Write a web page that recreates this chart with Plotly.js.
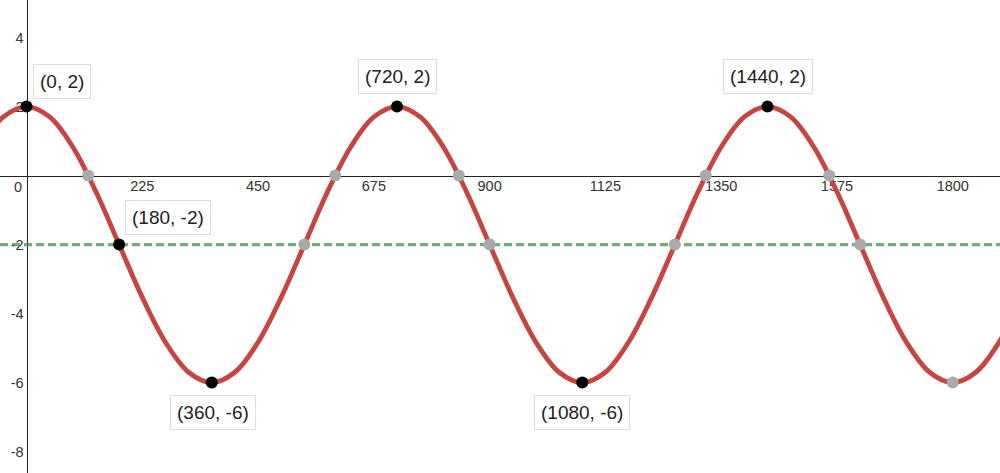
<!DOCTYPE html>
<html>
<head>
<meta charset="utf-8">
<script src="https://cdn.plot.ly/plotly-3.0.1.min.js"></script>
<style>
  html, body { margin: 0; padding: 0; background: #fff; }
  #chart { width: 1000px; height: 473px; }
</style>
</head>
<body>
<div id="chart"></div>
<script>
// Curve samples of the wave, every 45 units along x
const curveX = [-90, -45, 0, 45, 90, 135, 180, 225, 270, 315, 360, 405, 450, 495, 540, 585,
  630, 675, 720, 765, 810, 855, 900, 945, 990, 1035, 1080, 1125, 1170, 1215, 1260, 1305,
  1350, 1395, 1440, 1485, 1530, 1575, 1620, 1665, 1710, 1755, 1800, 1845, 1890, 1935];
const curveY = [0.83, 1.70, 2, 1.70, 0.83, -0.47, -2, -3.53, -4.83, -5.70, -6, -5.70, -4.83, -3.53, -2, -0.47,
  0.83, 1.70, 2, 1.70, 0.83, -0.47, -2, -3.53, -4.83, -5.70, -6, -5.70, -4.83, -3.53, -2, -0.47,
  0.83, 1.70, 2, 1.70, 0.83, -0.47, -2, -3.53, -4.83, -5.70, -6, -5.70, -4.83, -3.53];

// Midline
const midlineY = -2;

// Labelled key points (maxima, minima, one midline crossing)
const keyX = [0, 180, 360, 720, 1080, 1440];
const keyY = [2, -2, -6, 2, -6, 2];

// Unlabelled crossings of y = 0 and y = -2, plus the last minimum
const crossX = [120, 540, 600, 840, 900, 1260, 1320, 1560, 1620, 1800];
const crossY = [0, -2, 0, 0, -2, -2, 0, 0, -2, -6];

// Axis ticks
const xTicks = [225, 450, 675, 900, 1125, 1350, 1575, 1800];
const yTicks = [4, 2, -2, -4, -6, -8];

// View window
const xRange = [-51.5, 1891.8];
const yRange = [-8.62, 5.09];

// Where each key-point label box sits relative to its point (px)
const labelShift = [
  { dx: 35.5, dy: 25.5 },
  { dx: 49, dy: 27 },
  { dx: 1, dy: -30 },
  { dx: 0, dy: 30 },
  { dx: 0, dy: -30 },
  { dx: 0, dy: 30 }
];

const FONT = 'Arial, "Liberation Sans", sans-serif';

const traces = [
  {
    x: [xRange[0], xRange[1]],
    y: [midlineY, midlineY],
    mode: 'lines',
    line: { color: 'rgba(56,140,70,0.72)', width: 3.3, dash: '8px,4px' },
    hoverinfo: 'skip'
  },
  {
    x: curveX,
    y: curveY,
    mode: 'lines',
    line: { color: '#c74440', width: 4.8, shape: 'spline', smoothing: 1 },
    hoverinfo: 'skip'
  },
  {
    x: crossX,
    y: crossY,
    mode: 'markers',
    marker: { color: '#aaaaaa', size: 12 },
    hoverinfo: 'skip'
  },
  {
    x: keyX,
    y: keyY,
    mode: 'markers',
    marker: { color: '#000000', size: 12 },
    hoverinfo: 'skip'
  }
];

const annotations = keyX.map((x, i) => ({
  x: x,
  y: keyY[i],
  xref: 'x',
  yref: 'y',
  text: '(' + x + ', ' + keyY[i] + ')',
  showarrow: false,
  xanchor: 'center',
  yanchor: 'middle',
  xshift: labelShift[i].dx,
  yshift: labelShift[i].dy,
  font: { family: FONT, size: 19, color: '#222' },
  bgcolor: '#ffffff',
  bordercolor: '#dddddd',
  borderwidth: 1,
  borderpad: 6
}));

// Origin label sits to the lower left of the axes crossing
annotations.push({
  x: 0, y: 0, xref: 'x', yref: 'y',
  text: '0',
  showarrow: false,
  xanchor: 'right',
  yanchor: 'top',
  xshift: -3,
  yshift: -1,
  font: { family: FONT, size: 14.5, color: '#333' }
});

const layout = {
  width: 1000,
  height: 473,
  margin: { l: 0, r: 0, t: 0, b: 0 },
  paper_bgcolor: '#ffffff',
  plot_bgcolor: '#ffffff',
  showlegend: false,
  xaxis: {
    range: xRange,
    anchor: 'free',
    position: (0 - yRange[0]) / (yRange[1] - yRange[0]),
    showgrid: false,
    zeroline: false,
    showline: true,
    linecolor: '#222',
    linewidth: 1.5,
    layer: 'below traces',
    tickmode: 'array',
    tickvals: xTicks,
    ticktext: xTicks.map(String),
    ticks: '',
    ticklabelstandoff: -4,
    tickfont: { family: FONT, size: 14.5, color: '#333' },
    fixedrange: true
  },
  yaxis: {
    range: yRange,
    anchor: 'free',
    position: (0 - xRange[0]) / (xRange[1] - xRange[0]),
    showgrid: false,
    zeroline: false,
    showline: true,
    linecolor: '#222',
    linewidth: 1.8,
    layer: 'below traces',
    tickmode: 'array',
    tickvals: yTicks,
    ticktext: yTicks.map(String),
    ticks: '',
    tickfont: { family: FONT, size: 14.5, color: '#333' },
    fixedrange: true
  },
  annotations: annotations
};

Plotly.newPlot('chart', traces, layout, { displayModeBar: false, staticPlot: true });
</script>
</body>
</html>
